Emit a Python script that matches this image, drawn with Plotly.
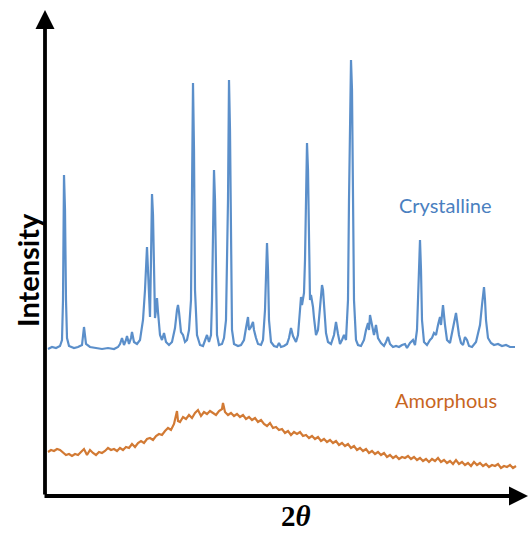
import plotly.graph_objects as go

# ---- Crystalline pattern (2θ in degrees, intensity a.u.) ----
two_theta_cryst = [4.8, 5.2, 5.6, 6.0, 6.2, 6.3, 6.4, 6.5, 6.6, 6.7, 6.9, 7.4, 7.8, 8.2, 8.4, 8.6, 9.0, 9.6,
                   10.2, 10.8, 11.4, 11.8, 12.0, 12.2, 12.4, 12.6, 12.7, 12.9, 13.1, 13.2, 13.4, 13.7, 14.0,
                   14.3, 14.5, 14.7, 14.8, 14.9, 15.0, 15.1, 15.2, 15.3, 15.4, 15.5, 15.6, 15.7, 15.8, 16.0,
                   16.2, 16.4, 16.6, 16.9, 17.2, 17.5, 17.7, 17.8, 17.9, 18.1, 18.3, 18.5, 18.7, 18.9, 19.1,
                   19.2, 19.3, 19.4, 19.5, 19.7, 20.0, 20.3, 20.5, 20.7, 20.9, 21.1, 21.2, 21.3, 21.4, 21.5,
                   21.6, 21.7, 21.9, 22.2, 22.4, 22.6, 22.8, 22.9, 23.0, 23.1, 23.2, 23.4, 23.8, 24.1, 24.4,
                   24.6, 24.8, 24.9, 25.1, 25.3, 25.4, 25.6, 25.8, 26.1, 26.3, 26.5, 26.6, 26.7, 26.8, 26.9,
                   27.1, 27.4, 27.7, 27.9, 28.1, 28.4, 28.7, 28.9, 29.1, 29.3, 29.6, 29.8, 30.0, 30.1, 30.2,
                   30.3, 30.4, 30.5, 30.6, 30.7, 30.8, 30.9, 31.0, 31.1, 31.3, 31.4, 31.6, 31.8, 32.0, 32.2,
                   32.3, 32.4, 32.6, 32.8, 33.1, 33.4, 33.6, 33.8, 34.0, 34.2, 34.4, 34.6, 34.8, 34.9, 35.0,
                   35.1, 35.2, 35.3, 35.4, 35.6, 35.8, 36.1, 36.4, 36.6, 36.8, 36.9, 37.0, 37.2, 37.4, 37.6,
                   37.8, 38.1, 38.4, 38.6, 38.8, 39.0, 39.3, 39.6, 39.9, 40.2, 40.5, 40.7, 41.0, 41.3, 41.5,
                   41.7, 41.8, 41.9, 42.0, 42.1, 42.2, 42.4, 42.7, 43.0, 43.2, 43.4, 43.6, 43.8, 44.0, 44.1,
                   44.3, 44.5, 44.7, 45.0, 45.3, 45.5, 45.6, 45.7, 45.9, 46.1, 46.3, 46.5, 46.7, 46.9, 47.2,
                   47.6, 48.0, 48.2, 48.4, 48.5, 48.6, 48.8, 49.1, 49.4, 49.8, 50.2, 50.6, 51.0, 51.5]
intensity_cryst = [146, 148, 147, 149, 155, 195, 320, 285, 195, 157, 149, 147, 148, 150, 168, 151, 148, 147,
                   146, 147, 146, 148, 151, 157, 150, 155, 159, 151, 157, 163, 153, 151, 155,
                   175, 205, 248, 225, 195, 178, 235, 301, 280, 215, 177, 185, 197, 183, 160,
                   155, 162, 153, 150, 153, 167, 185, 190, 183, 163, 160, 153, 155, 165, 195,
                   295, 412, 345, 205, 160, 150, 149, 155, 160, 153, 160, 195, 275, 325, 295,
                   195, 160, 150, 151, 157, 175, 295, 415, 365, 245, 165, 151, 149, 150, 155,
                   167, 178, 165, 168, 173, 165, 157, 151, 150, 155, 185, 235, 252, 225, 175,
                   153, 149, 148, 152, 148, 149, 151, 157, 167, 159, 153, 160, 185, 198, 190,
                   195, 202, 235, 295, 352, 325, 245, 195, 200, 188, 177, 160, 165, 185, 210,
                   205, 190, 162, 153, 151, 160, 173, 161, 151, 155, 160, 155, 195, 295, 395,
                   435, 405, 315, 195, 155, 150, 149, 155, 165, 172, 165, 180, 170, 160, 170,
                   157, 152, 149, 153, 158, 151, 148, 149, 148, 150, 151, 147, 152, 155, 150,
                   165, 205, 235, 255, 225, 175, 153, 150, 155, 157, 162, 160, 170, 178, 170,
                   190, 170, 155, 152, 165, 177, 182, 175, 160, 152, 150, 158, 155, 149, 148,
                   153, 170, 190, 208, 195, 175, 157, 152, 150, 151, 149, 150, 148, 148]

# ---- Amorphous pattern ----
two_theta_amor = [4.8, 5.1, 5.4, 5.7, 6.0, 6.3, 6.6, 6.9, 7.2, 7.5, 7.8, 8.1, 8.4, 8.7, 9.0, 9.3, 9.6, 9.9,
                  10.2, 10.5, 10.8, 11.1, 11.4, 11.7, 12.0, 12.3, 12.6, 12.9, 13.2, 13.5, 13.8, 14.1, 14.4,
                  14.7, 15.0, 15.3, 15.6, 15.9, 16.2, 16.5, 16.8, 17.1, 17.4, 17.7, 17.8, 18.0, 18.3, 18.6,
                  18.9, 19.2, 19.5, 19.8, 20.1, 20.4, 20.7, 21.0, 21.3, 21.6, 21.9, 22.2, 22.3, 22.5, 22.8,
                  23.1, 23.4, 23.7, 24.0, 24.3, 24.6, 24.9, 25.2, 25.5, 25.8, 26.1, 26.4, 26.7, 27.0, 27.3,
                  27.6, 27.9, 28.2, 28.5, 28.8, 29.1, 29.4, 29.7, 30.0, 30.3, 30.6, 30.9, 31.2, 31.5, 31.8,
                  32.1, 32.4, 32.7, 33.0, 33.3, 33.6, 33.9, 34.2, 34.5, 34.8, 35.1, 35.4, 35.7, 36.0, 36.3,
                  36.6, 36.9, 37.2, 37.5, 37.8, 38.1, 38.4, 38.7, 39.0, 39.3, 39.6, 39.9, 40.2, 40.5, 40.8,
                  41.1, 41.4, 41.7, 42.0, 42.3, 42.6, 42.9, 43.2, 43.5, 43.8, 44.1, 44.4, 44.7, 45.0, 45.3,
                  45.6, 45.9, 46.2, 46.5, 46.8, 47.1, 47.4, 47.7, 48.0, 48.3, 48.6, 48.9, 49.2, 49.5, 49.8,
                  50.1, 50.4, 50.7, 51.0, 51.3, 51.6]
intensity_amor = [43, 45, 44, 46, 45, 42, 40, 41, 39, 41, 40, 43, 46, 40, 45, 42, 40, 43,
                  42, 44, 47, 45, 46, 44, 47, 45, 48, 47, 51, 48, 52, 54, 52,
                  56, 57, 55, 59, 61, 60, 64, 67, 65, 71, 84, 74, 73, 78, 76,
                  80, 77, 82, 85, 79, 83, 81, 84, 82, 80, 84, 86, 92, 83, 80,
                  82, 79, 81, 78, 80, 76, 78, 75, 77, 73, 75, 71, 69, 72, 67,
                  68, 65, 66, 62, 64, 60, 63, 61, 63, 59, 60, 57, 59, 56, 58,
                  54, 56, 53, 55, 52, 54, 50, 52, 49, 51, 47, 49, 45, 47, 44,
                  46, 42, 44, 41, 43, 40, 42, 38, 40, 37, 39, 36, 38, 37, 39,
                  36, 38, 35, 37, 34, 36, 33, 36, 34, 37, 33, 35, 32, 34, 31,
                  35, 31, 33, 30, 32, 29, 33, 30, 32, 29, 31, 28, 30, 29, 31,
                  27, 29, 28, 30, 27, 29]

series_labels = ["Crystalline", "Amorphous"]
axis_labels = ["Intensity", "2θ"]

BLUE_LINE = "#5b8fca"
BLUE_TEXT = "#4a80c0"
ORANGE_LINE = "#d27a34"
ORANGE_TEXT = "#c8661f"

fig = go.Figure()
fig.add_trace(go.Scatter(x=two_theta_cryst, y=intensity_cryst, mode="lines",
                         line=dict(color=BLUE_LINE, width=2.2), name=series_labels[0],
                         hoverinfo="skip"))
fig.add_trace(go.Scatter(x=two_theta_amor, y=intensity_amor, mode="lines",
                         line=dict(color=ORANGE_LINE, width=2.2), name=series_labels[1],
                         hoverinfo="skip"))

# axis arrows
fig.add_annotation(x=4.5, y=485, ax=4.5, ay=-1, xref="x", yref="y", axref="x", ayref="y",
                   showarrow=True, arrowhead=2, arrowsize=1, arrowwidth=3.8, arrowcolor="black", text="")
fig.add_annotation(x=52.8, y=-1, ax=4.3, ay=-1, xref="x", yref="y", axref="x", ayref="y",
                   showarrow=True, arrowhead=2, arrowsize=1, arrowwidth=3.8, arrowcolor="black", text="")

# labels
fig.add_annotation(x=2.7, y=225, xref="x", yref="y", text="<b>" + axis_labels[0] + "</b>", textangle=-90,
                   showarrow=False, font=dict(family="Lato", size=29, color="black"))
fig.add_annotation(x=29.6, y=-38.5, xref="x", yref="y", yanchor="bottom",
                   text="<b>2<i>θ</i></b>", showarrow=False,
                   font=dict(family="Liberation Serif", size=29, color="black"))
fig.add_annotation(x=44.5, y=290, xref="x", yref="y", text=series_labels[0],
                   showarrow=False, font=dict(family="Lato", size=20, color=BLUE_TEXT))
fig.add_annotation(x=44.6, y=95, xref="x", yref="y", text=series_labels[1],
                   showarrow=False, font=dict(family="Lato", size=20, color=ORANGE_TEXT))

fig.update_layout(
    width=528, height=534,
    margin=dict(l=0, r=0, t=0, b=0),
    paper_bgcolor="white", plot_bgcolor="white",
    showlegend=False,
    xaxis=dict(range=[0, 52.8], visible=False, fixedrange=True),
    yaxis=dict(range=[-39, 495], visible=False, fixedrange=True),
)

fig.write_html("out.html", config={"displayModeBar": False})
